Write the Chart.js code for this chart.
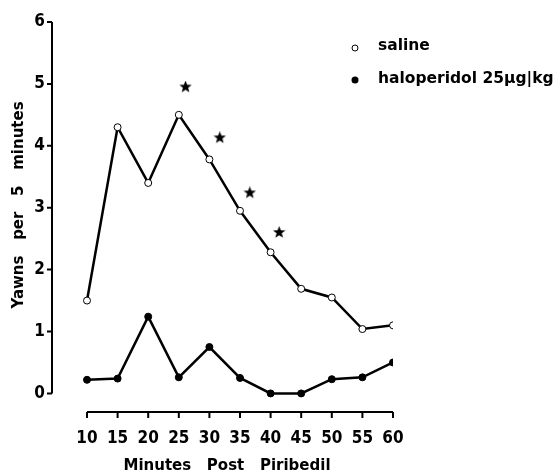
<!DOCTYPE html>
<html>
<head>
<meta charset="utf-8">
<script src="https://cdn.jsdelivr.net/npm/chart.js@4/dist/chart.umd.min.js"></script>
<style>
    html, body { margin: 0; padding: 0; background: #fff; }
    #wrap { width: 556px; height: 472px; position: relative; }
</style>
</head>
<body>
<div id="wrap"><canvas id="chart"></canvas></div>
<script>
// Data
const minutes = [10, 15, 20, 25, 30, 35, 40, 45, 50, 55, 60];
const saline = [1.5, 4.3, 3.4, 4.5, 3.78, 2.95, 2.28, 1.69, 1.55, 1.04, 1.1];
const haloperidol = [0.22, 0.24, 1.24, 0.26, 0.75, 0.25, 0, 0, 0.23, 0.26, 0.5];
const starMinutes = [26.1, 31.7, 36.6, 41.4];
const starValues = [4.95, 4.13, 3.24, 2.6];
const xTicks = [10, 15, 20, 25, 30, 35, 40, 45, 50, 55, 60];
const yTicks = [0, 1, 2, 3, 4, 5, 6];
const legendLabels = ['saline', 'haloperidol 25\u00b5g|kg'];
const xTitle = 'Minutes   Post   Piribedil';
const yTitle = 'Yawns   per   5   minutes';

const tickFont = { family: '"Liberation Sans Narrow", "DejaVu Sans Condensed", sans-serif', size: 17, weight: 'bold' };

// Filled five-pointed star used as point style
function makeStar(size) {
    const c = document.createElement('canvas');
    c.width = size; c.height = size;
    const g = c.getContext('2d');
    const cx = size / 2, cy = size / 2, ro = size / 2, ri = ro * 0.42;
    g.beginPath();
    for (let i = 0; i < 10; i++) {
        const r = i % 2 === 0 ? ro : ri;
        const a = -Math.PI / 2 + i * Math.PI / 5;
        g.lineTo(cx + r * Math.cos(a), cy + r * Math.sin(a));
    }
    g.closePath();
    g.fillStyle = '#000';
    g.fill();
    return c;
}

// Draws the detached axes, axis titles and the legend
const axesPlugin = {
    id: 'axesPlugin',
    afterDraw(chart) {
        const ctx = chart.ctx;
        const x = chart.scales.x, y = chart.scales.y;
        const area = chart.chartArea;
        ctx.save();
        ctx.strokeStyle = '#000';
        ctx.lineWidth = 2;

        // y axis
        const yl = area.left;
        ctx.beginPath();
        ctx.moveTo(yl, y.getPixelForValue(yTicks[yTicks.length - 1]));
        ctx.lineTo(yl, y.getPixelForValue(yTicks[0]));
        yTicks.forEach(v => {
            const py = y.getPixelForValue(v);
            ctx.moveTo(yl - 5, py);
            ctx.lineTo(yl, py);
        });
        ctx.stroke();

        // x axis
        const xb = area.bottom;
        ctx.beginPath();
        ctx.moveTo(x.getPixelForValue(xTicks[0]), xb);
        ctx.lineTo(x.getPixelForValue(xTicks[xTicks.length - 1]), xb);
        xTicks.forEach(v => {
            const px = x.getPixelForValue(v);
            ctx.moveTo(px, xb);
            ctx.lineTo(px, xb + 6);
        });
        ctx.stroke();

        // axis titles
        ctx.fillStyle = '#000';
        ctx.font = 'bold 15px "DejaVu Sans", sans-serif';
        ctx.textAlign = 'center';
        ctx.textBaseline = 'middle';
        ctx.fillText(xTitle, 227, 466);
        ctx.save();
        ctx.translate(19, 205);
        ctx.rotate(-Math.PI / 2);
        ctx.fillText(yTitle, 0, 0);
        ctx.restore();

        // legend
        ctx.textAlign = 'left';
        ctx.font = 'bold 15.5px "DejaVu Sans", sans-serif';
        ctx.lineWidth = 1;
        ctx.beginPath();
        ctx.arc(355, 48, 3, 0, Math.PI * 2);
        ctx.fillStyle = '#fff';
        ctx.fill();
        ctx.stroke();
        ctx.fillStyle = '#000';
        ctx.beginPath();
        ctx.arc(355, 80, 3.5, 0, Math.PI * 2);
        ctx.fill();
        ctx.fillText(legendLabels[0], 378, 46);
        ctx.fillText(legendLabels[1], 378, 79);
        ctx.restore();
    }
};

const ctx = document.getElementById('chart').getContext('2d');
new Chart(ctx, {
    type: 'line',
    data: {
        datasets: [
            {
                label: legendLabels[0],
                data: minutes.map((m, i) => ({ x: m, y: saline[i] })),
                borderColor: '#000',
                borderWidth: 2.5,
                pointRadius: 3.5,
                pointBackgroundColor: '#fff',
                pointBorderColor: '#000',
                pointBorderWidth: 1,
                tension: 0
            },
            {
                label: legendLabels[1],
                data: minutes.map((m, i) => ({ x: m, y: haloperidol[i] })),
                borderColor: '#000',
                borderWidth: 2.5,
                pointRadius: 3.5,
                pointBackgroundColor: '#000',
                pointBorderColor: '#000',
                pointBorderWidth: 1,
                tension: 0
            },
            {
                label: 'significance',
                data: starMinutes.map((m, i) => ({ x: m, y: starValues[i] })),
                showLine: false,
                pointStyle: makeStar(13),
                pointRadius: 6.5
            }
        ]
    },
    options: {
        responsive: true,
        maintainAspectRatio: false,
        animation: false,
        layout: { padding: { top: 22, right: 163, left: 0, bottom: 0 } },
        plugins: {
            legend: { display: false },
            tooltip: { enabled: false }
        },
        scales: {
            x: {
                type: 'linear',
                min: 4.28,
                max: 60,
                afterBuildTicks: scale => { scale.ticks = xTicks.map(v => ({ value: v })); },
                afterFit: scale => { scale.height = 60; },
                grid: { display: false, drawTicks: false },
                border: { display: false },
                ticks: {
                    color: '#000',
                    font: tickFont,
                    padding: 16,
                    maxRotation: 0,
                    autoSkip: false
                }
            },
            y: {
                min: -0.3,
                max: 6,
                afterBuildTicks: scale => { scale.ticks = yTicks.map(v => ({ value: v })); },
                afterFit: scale => { scale.width = 52; },
                grid: { display: false, drawTicks: false },
                border: { display: false },
                ticks: {
                    color: '#000',
                    font: tickFont,
                    padding: 7
                }
            }
        }
    },
    plugins: [axesPlugin]
});
</script>
</body>
</html>
